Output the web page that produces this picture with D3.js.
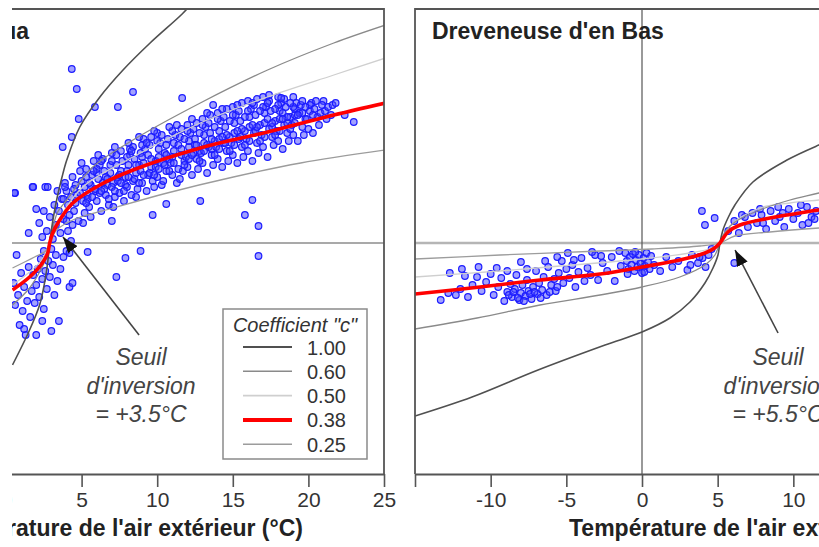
<!DOCTYPE html>
<html><head><meta charset="utf-8">
<script src="https://cdn.jsdelivr.net/npm/d3@7"></script>
<style>body{margin:0;background:#fff}svg{display:block}text{font-family:"Liberation Sans",Arial,sans-serif}</style>
</head><body><svg id="c" width="819" height="547"></svg>
<script>
// ---------- data ----------
const coefficients = ["1.00","0.60","0.50","0.38","0.25"];
const leftTitle = "ua";
const rightTitle = "Dreveneuse d'en Bas";
const axisTitle = "Température de l'air extérieur (°C)";
const xTicksLeft = [0,5,10,15,20,25];
const xTicksRight = [-15,-10,-5,0,5,10,15];
const thresholdLeft = "= +3.5°C";
const thresholdRight = "= +5.5°C";

// model curves, left panel (°C, relative y units), order = coefficients
const leftCurve100 = [[0.43,-6.1],[1.56,-4.35],[2.22,-3.1],[2.56,-1.95],[2.76,-0.95],[2.89,0],[3.02,0.75],[3.22,1.65],[3.42,2.4],[3.69,3.25],[4.02,4.15],[4.88,5.8],[6.21,7.3],[7.74,8.65],[9.53,10.0],[11.65,11.45],[12.2,11.9]];
const leftCurve060 = [[0.43,-3.1],[1.56,-2.25],[2.36,-1.25],[2.76,-0.55],[2.89,0],[3.09,0.75],[3.42,1.55],[4.02,2.15],[5.74,3.8],[8.4,5.15],[12.85,7.0],[17.3,8.65],[21.68,10.0],[25.1,10.9]];
const leftCurve050 = [[0.43,-2.1],[1.56,-1.45],[2.36,-0.85],[2.89,0],[3.09,0.55],[3.55,1.25],[5.08,2.8],[8.4,4.3],[12.85,6.0],[17.3,7.3],[21.68,8.4],[25.1,9.25]];
const leftCurve038 = [[0.43,-2.35],[1.56,-1.7],[2.36,-1.05],[2.76,-0.5],[2.89,0],[3.09,0.5],[3.55,1.15],[4.42,2.0],[6.21,2.9],[8.4,3.65],[12.85,4.75],[17.3,5.55],[21.68,6.4],[25.1,7.0]];
const leftCurve025 = [[0.43,-1.25],[1.89,-0.7],[2.62,-0.4],[2.89,0],[3.09,0.35],[3.35,0.65],[4.42,1.15],[7.34,1.8],[10.66,2.5],[15.04,3.3],[19.49,4.0],[25.1,4.65]];

// model curves, right panel
const rightCurve100 = [[-15,-8.65],[-11.23,-7.7],[-6.87,-6.35],[-2.44,-5.1],[0,-4.45],[1.85,-3.75],[3.17,-2.95],[4.16,-2.0],[4.69,-1.25],[5.02,-0.6],[5.15,0],[5.35,0.65],[5.68,1.25],[6.14,1.9],[7.33,3.05],[9.58,4.15],[11.69,4.9],[15,5.9]];
const rightCurve060 = [[-15,-4.3],[-10.9,-3.75],[-6.74,-3.1],[-2.77,-2.6],[0,-2.2],[2.5,-1.7],[4.16,-1.1],[4.82,-0.6],[5.15,0],[5.48,0.55],[6.14,1.05],[7.79,1.65],[9.78,2.15],[11.69,2.5],[15,3.15]];
const rightCurve050 = [[-15,-1.7],[-9.38,-1.4],[-5.42,-1.15],[0,-0.8],[3.17,-0.5],[4.62,-0.25],[5.15,0],[5.81,0.85],[7.79,1.75],[9.78,2.0],[11.69,2.15],[15,2.4]];
const rightCurve038 = [[-15,-2.55],[-10.7,-2.2],[-6.74,-1.85],[-2.77,-1.55],[0,-1.2],[2.5,-0.85],[4.16,-0.5],[4.8,-0.25],[5.15,0],[5.68,0.55],[6.47,0.9],[8.45,1.25],[10.44,1.5],[11.7,1.65],[15,1.9]];
const rightCurve025 = [[-15,-0.8],[-9.38,-0.6],[-2.77,-0.4],[0.66,-0.3],[3.83,-0.15],[5.15,0],[6.14,0.35],[8.45,0.55],[11.69,0.75],[15,0.9]];

// observations, left panel
const leftPoints = [
[3.8,1.2],[4.0,2.6],[4.1,1.9],[3.9,3.0],[4.2,1.4],[4.3,2.3],[3.7,2.2],[4.4,0.9],
[4.6,2.9],[4.5,1.6],[4.7,2.4],[4.4,3.3],[4.8,1.1],[4.6,2.0],[4.9,3.6],[4.5,2.7],
[5.1,2.1],[5.0,3.1],[5.2,1.5],[4.9,2.5],[5.3,3.7],[5.1,1.0],[5.2,2.8],[5.0,4.0],[5.4,2.4],
[5.6,2.9],[5.5,1.8],[5.7,3.4],[5.4,2.2],[5.8,4.1],[5.6,1.3],[5.5,3.0],[5.9,2.6],
[6.1,3.2],[6.0,2.1],[6.2,3.9],[5.9,2.7],[6.3,1.6],[6.1,4.4],[6.2,2.5],[6.0,3.5],[6.4,3.0],
[6.6,2.4],[6.5,3.6],[6.7,2.9],[6.4,4.2],[6.8,1.9],[6.6,3.3],[6.5,2.7],[6.9,3.9],
[7.1,3.0],[7.0,4.5],[7.2,2.3],[6.9,3.5],[7.3,3.9],[7.1,1.8],[7.0,2.8],[7.4,3.3],[7.2,4.8],
[7.6,3.6],[7.5,2.5],[7.7,4.1],[7.4,3.1],[7.8,2.1],[7.6,4.6],[7.5,3.4],[7.9,2.9],
[8.1,3.9],[8.0,2.8],[8.2,4.4],[7.9,3.3],[8.3,2.4],[8.1,5.0],[8.0,3.6],[8.4,3.1],[8.2,4.7],
[8.6,3.5],[8.5,4.2],[8.7,2.7],[8.4,4.8],[8.8,3.9],[8.6,2.3],[8.5,3.2],[8.9,4.5],
[9.1,4.0],[9.0,3.0],[9.2,4.7],[8.9,3.6],[9.3,2.6],[9.1,5.2],[9.0,4.3],[9.4,3.4],
[9.6,3.8],[9.5,4.9],[9.7,3.1],[9.4,4.4],[9.8,2.8],[9.6,5.3],[9.5,3.5],[9.9,4.1],
[10.1,4.3],[10.0,3.3],[10.2,5.0],[9.9,3.8],[10.3,2.9],[10.1,4.7],[10.0,5.5],[10.4,4.0],
[10.6,3.6],[10.5,4.5],[10.7,5.2],[10.4,3.1],[10.8,4.2],[10.6,4.9],[10.5,3.9],
[11.1,4.6],[11.0,3.4],[11.2,5.4],[10.9,4.0],[11.3,3.0],[11.1,5.0],[11.0,4.3],[11.4,3.7],
[11.6,4.4],[11.5,5.3],[11.7,3.6],[11.4,4.9],[11.8,4.1],[11.6,5.7],[11.5,3.2],
[12.1,4.8],[12.0,3.8],[12.2,5.5],[11.9,4.3],[12.3,3.4],[12.1,5.1],[12.0,5.9],[12.4,4.5],
[12.6,4.2],[12.5,5.2],[12.7,3.7],[12.4,5.7],[12.8,4.6],[12.6,6.0],[12.5,4.9],
[13.1,5.0],[13.0,4.0],[13.2,5.8],[12.9,4.5],[13.3,3.5],[13.1,5.4],[13.0,6.2],[13.4,4.8],
[13.6,4.4],[13.5,5.5],[13.7,3.9],[13.4,6.0],[13.8,5.1],[13.6,4.7],[13.5,6.4],
[14.1,5.2],[14.0,4.2],[14.2,6.1],[13.9,4.8],[14.3,3.8],[14.1,5.6],[14.0,6.5],[14.4,5.0],
[14.6,4.6],[14.5,5.8],[14.7,4.1],[14.4,6.3],[14.8,5.3],[14.6,6.7],[14.5,5.0],
[15.1,5.5],[15.0,4.4],[15.2,6.4],[14.9,5.0],[15.3,4.0],[15.1,6.0],[15.0,6.8],[15.4,5.2],
[15.6,4.8],[15.5,6.1],[15.7,4.3],[15.4,6.6],[15.8,5.6],[15.6,7.0],[15.5,5.3],
[16.1,5.8],[16.0,4.6],[16.2,6.7],[15.9,5.2],[16.3,4.1],[16.1,6.3],[16.0,7.1],[16.4,5.5],
[16.6,5.0],[16.5,6.4],[16.7,4.5],[16.4,6.9],[16.8,5.9],[16.6,7.2],[16.5,5.6],
[17.1,6.0],[17.0,4.8],[17.2,6.8],[16.9,5.4],[17.3,4.3],[17.1,6.5],[17.0,7.3],[17.4,5.7],
[17.6,5.3],[17.5,6.6],[17.7,4.9],[17.4,7.1],[17.8,6.1],[17.6,5.8],
[18.1,6.2],[18.0,5.1],[18.2,7.0],[17.9,5.6],[18.3,4.7],[18.1,6.6],[18.0,7.3],[18.4,5.9],
[18.6,5.5],[18.5,6.8],[18.7,5.1],[18.4,7.2],[18.8,6.3],[18.6,6.0],
[19.1,6.4],[19.0,5.4],[19.2,7.0],[18.9,5.9],[19.3,5.1],[19.1,6.7],[19.0,7.3],
[19.6,5.8],[19.5,6.9],[19.7,5.4],[19.4,6.5],[19.8,6.2],[19.6,7.1],
[20.1,6.6],[20.0,5.7],[20.2,7.0],[19.9,6.2],[20.3,5.5],[20.1,6.9],
[20.6,6.3],[20.5,7.1],[20.7,5.9],[20.4,6.7],[20.8,6.5],
[21.1,6.6],[21.0,7.1],[21.2,6.2],[20.9,6.9],[21.3,6.8],
[21.6,6.9],[21.5,6.4],[21.8,7.0],[22.4,6.4],
[5.3,2.0],[5.7,2.3],[6.3,2.6],[6.7,3.2],[7.2,2.6],[7.6,3.0],[8.1,3.3],[8.6,3.9],[9.1,3.4],[9.6,4.2],[10.1,3.7],[10.6,4.4],[11.1,4.0],[11.6,4.7],[12.1,4.2],[12.6,4.9],[13.1,4.6],[13.6,5.2],[14.1,4.7],[14.6,5.4],[15.1,4.9],[15.6,5.7],[16.1,5.1],[16.6,5.8],[17.1,5.3],[17.6,6.0],[18.1,5.6],[18.6,6.3],[19.1,6.0],[19.6,6.5],
[6.0,3.7],[7.0,4.1],[8.0,4.3],[9.0,4.9],[10.0,5.1],[11.0,5.6],[12.0,5.6],[13.0,5.9],[14.0,6.2],[15.0,6.4],[16.0,6.6],[17.0,6.8],[18.0,6.9],[19.0,6.8],
[6.8,2.2],[7.8,2.6],[8.8,3.0],[9.8,3.4],[10.8,3.6],[11.8,3.9],[12.8,4.1],[13.8,4.4],[14.8,4.6],[15.8,4.9],[16.8,5.1],[17.8,5.4],[18.8,5.7],
[11.3,5.9],[11.8,5.2],[12.3,6.2],[12.8,5.5],[13.3,6.5],[13.8,5.8],[14.3,6.7],[14.8,6.1],[15.3,6.9],[15.8,6.3],[16.3,7.0],[16.8,6.6],[17.3,7.0],[17.8,6.7],[18.3,6.5],[18.8,7.0],[19.3,6.4],[19.8,6.8],[20.3,6.4],[12.3,4.4],[13.3,4.9],[14.3,5.3],[15.3,5.6],[16.3,5.9],[17.3,6.2],[18.3,6.2],[8.3,4.6],[8.8,5.3],[9.3,5.0],[9.8,5.6],[10.3,5.4],[10.8,5.8],[7.3,4.4],[6.3,4.1],[5.3,3.3],[5.8,3.6],
[0.5,-2.0],[0.6,-3.1],[0.8,-2.6],[0.9,-4.1],[1.0,-1.5],[1.1,-3.4],[1.2,-2.2],[1.3,-4.6],[1.4,-2.9],[1.5,-1.2],[1.6,-3.7],[1.7,-2.4],[1.8,-1.6],[1.9,-3.0],[2.0,-2.1],[2.1,-1.3],[2.2,-2.7],[2.3,-0.8],[2.4,-1.8],[2.5,-3.3],[2.5,-0.4],[2.6,-1.4],[2.7,-2.3],[2.8,-0.9],[2.9,-1.7],[3.0,-0.3],[3.1,-1.1],[3.2,-2.6],[3.3,-0.6],[3.4,-1.9],[3.5,-3.9],[3.6,-1.3],[3.8,-0.7],[4.0,-0.4],[4.2,-2.2],[4.4,-2.0],[0.7,-0.6],[1.2,-4.3],[2.0,-4.6],[2.4,-3.9],[3.0,-4.4],
[0.6,2.5],[1.8,2.8],[2.6,2.8],[2.2,1.0],[2.5,1.6],[2.7,0.6],[2.9,1.3],[3.1,0.2],[3.2,1.9],[3.3,0.9],[3.5,1.6],[3.6,0.5],[3.8,2.2],[4.0,1.1],[4.1,0.6],[4.3,0.1],[2.4,0.3],[2.0,1.7],[1.5,0.5],[3.4,2.6],[3.9,2.8],
[4.35,8.7],[4.68,7.7],[4.81,6.2],[4.35,5.3],[3.75,4.8],[5.88,6.8],[7.4,6.8],[8.4,7.55],[11.65,7.25],[13.7,6.9],[17.4,7.4],[18.2,7.25],[23.0,6.05],[16.3,2.15],[15.8,1.4],[16.7,0.85],[16.7,-0.65],[12.85,2.1],[9.7,1.4],[10.6,1.95],[7.0,1.1],[8.9,-0.4],[7.9,-0.75],[7.3,-1.7],[5.4,-0.45],[4.2,-0.5],[0.56,2.5],[1.76,2.8],[2.76,2.8]
];

// observations, right panel
const rightPoints = [
[-13.3,-2.85],[-12.8,-2.5],[-12.3,-2.6],[-12.0,-2.3],[-11.7,-1.65],[-11.5,-2.7],[-11.2,-2.1],[-10.9,-1.7],[-10.6,-2.4],[-10.3,-1.95],[-10.0,-1.55],[-9.8,-2.6],[-9.5,-2.2],[-9.3,-1.75],[-9.1,-2.9],[-8.9,-2.45],[-8.7,-2.05],[-8.6,-2.7],[-8.4,-2.3],[-8.3,-1.6],[-8.1,-2.85],[-8.0,-2.5],[-7.9,-2.1],[-7.7,-2.65],[-7.6,-1.85],[-7.5,-2.4],[-7.3,-2.8],[-7.2,-2.2],[-7.0,-1.4],[-6.9,-2.55],[-6.8,-2.0],[-6.6,-2.35],[-6.5,-1.7],[-6.3,-2.6],[-6.2,-1.2],[-6.0,-2.1],[-5.8,-1.8],[-5.7,-2.4],[-5.5,-1.5],[-5.3,-0.9],[-5.2,-2.0],[-5.0,-1.3],[-4.8,-1.75],[-4.6,-1.1],[-4.4,-2.2],[-4.2,-1.45],[-4.0,-0.75],[-3.8,-1.9],[-3.6,-1.25],[-3.4,-1.6],[-3.1,-0.6],[-2.9,-1.85],[-2.6,-1.0],[-2.3,-1.4],[-2.0,-0.7],[-1.8,-1.9],[-1.4,-1.15],
[-8.8,-2.6],[-8.2,-2.75],[-7.8,-2.9],[-7.4,-2.55],[-6.7,-2.75],[-6.1,-2.45],[-5.6,-2.2],[-8.5,-2.45],[-7.1,-2.45],
[-1.1,-0.5],[-1.0,-0.9],[-0.9,-1.3],[-0.8,-0.7],[-0.7,-1.1],[-0.6,-0.55],[-0.5,-1.4],[-0.4,-0.85],[-0.3,-1.2],[-0.2,-0.6],[-0.1,-1.0],[0.0,-1.5],[0.1,-0.75],[0.2,-1.15],[0.3,-0.5],[0.4,-0.95],[0.5,-1.3],[-0.95,-1.55],[-0.45,-0.45],[0.15,-1.45],[0.6,-0.65],[0.8,-1.1],[1.2,-1.4],[1.6,-0.7],[2.0,-1.2],[2.4,-0.9],[3.0,-1.35],[3.3,-0.6],[3.7,-1.0],[4.0,-0.75],[4.2,-1.2],[4.4,-0.6],[4.6,-0.3],
[-9.6,-1.25],[-8.9,-1.4],[-8.0,-0.95],[-7.6,-1.3],[-6.4,-0.9],[-5.6,-0.7],[-4.9,-0.5],[-4.5,-0.85],[-3.3,-0.45],[-2.7,-0.65],[-1.5,-0.4],[-11.9,-1.3],[-12.7,-1.5],[-10.8,-1.2],
[5.7,0.6],[6.1,1.1],[6.4,0.5],[6.8,1.3],[7.0,0.8],[7.3,1.5],[7.6,1.0],[7.9,1.4],[8.2,0.7],[8.5,1.6],[8.8,1.1],[9.1,1.3],[9.4,0.8],[9.7,1.7],[10.0,1.2],[10.3,1.5],[10.6,0.9],[10.9,1.8],[11.2,1.3],[11.5,1.6],[6.6,1.4],[7.8,1.7],[9.0,1.8],[10.5,1.9],[11.0,1.0],[8.0,1.0],[9.3,1.5],[11.4,1.2],
[3.96,1.6],[4.16,0.9],[4.8,1.25],[6.1,-1.0],[3.8,-0.7],[3.2,-1.1]
];

// ---------- drawing ----------
const styles = [
  {color:"#505050", width:1.6},
  {color:"#8a8a8a", width:1.3},
  {color:"#cfcfcf", width:1.3},
  {color:"#ff0000", width:3.6},
  {color:"#9c9c9c", width:1.3}
];
const svg = d3.select("#c");
const yS = d3.scaleLinear().domain([-11.55, 11.7]).range([474, 9]);
const xL = d3.scaleLinear().domain([0, 25]).range([6, 384]);
const xR = d3.scaleLinear().domain([-15, 15]).range([415, 869]);
const frameColor = "#555";

const defs = svg.append("defs");
defs.append("clipPath").attr("id","clipL").append("rect").attr("x",12).attr("y",yS(11.7)).attr("width",xL(25)-12).attr("height",yS(-11.55)-yS(11.7));
defs.append("clipPath").attr("id","clipLall").append("rect").attr("x",12).attr("y",0).attr("width",420).attr("height",547);
defs.append("clipPath").attr("id","clipR").append("rect").attr("x",xR(-15)).attr("y",yS(11.7)).attr("width",xR(15)-xR(-15)).attr("height",yS(-11.55)-yS(11.7));
defs.append("marker").attr("id","arrow").attr("viewBox","0 0 15 11").attr("refX",15).attr("refY",5.5)
  .attr("markerWidth",16).attr("markerHeight",12).attr("markerUnits","userSpaceOnUse").attr("orient","auto")
  .append("path").attr("d","M0,0L15,5.5L0,11Z").attr("fill","#111");

function panel(g, x, curves, points, xTicks, tickLabelFilter, hColor, hWidth) {
  const plot = g.append("g");
  plot.append("line").attr("x1",x.range()[0]).attr("x2",x.range()[1]).attr("y1",yS(0)).attr("y2",yS(0))
    .attr("stroke", hColor).attr("stroke-width", hWidth);
  plot.append("line").attr("x1",x(0)).attr("x2",x(0)).attr("y1",yS(11.7)).attr("y2",yS(-11.55))
    .attr("stroke","#555").attr("stroke-width",1.2);
  plot.append("g").selectAll("circle").data(points).join("circle")
    .attr("cx",d=>x(d[0])).attr("cy",d=>yS(d[1])).attr("r",3.3)
    .attr("fill","rgba(70,70,255,0.5)").attr("stroke","#1c1cff").attr("stroke-width",1.2);
  const line = d3.line().x(d=>x(d[0])).y(d=>yS(d[1])).curve(d3.curveCatmullRom.alpha(0.5));
  [2,4,1,0,3].forEach(i=>{
    plot.append("path").attr("d", line(curves[i])).attr("fill","none")
      .attr("stroke", styles[i].color).attr("stroke-width", styles[i].width).attr("stroke-linejoin","round");
  });
  const ax = d3.axisBottom(x).tickValues(xTicks).tickSize(13).tickSizeOuter(0).tickPadding(5)
    .tickFormat(d => tickLabelFilter(d) ? d3.format("d")(d).replace("−","-") : "");
  const axg = g.append("g").attr("transform",`translate(0,${yS(-11.55)})`).call(ax);
  axg.select(".domain").attr("stroke",frameColor).attr("stroke-width",2);
  axg.selectAll(".tick line").attr("stroke",frameColor).attr("stroke-width",1.6);
  axg.selectAll(".tick text").attr("fill","#333").attr("font-size",21).attr("font-family",'"Liberation Sans",Arial,sans-serif');
  g.append("path").attr("d",`M${x.range()[0]},${yS(-11.55)}V${yS(11.7)}H${x.range()[1]}V${yS(-11.55)}`)
    .attr("fill","none").attr("stroke",frameColor).attr("stroke-width",1.8);
  return plot;
}

// left panel
const gL = svg.append("g").attr("clip-path","url(#clipLall)");
const plotL = panel(gL, xL, [leftCurve100,leftCurve060,leftCurve050,leftCurve038,leftCurve025], leftPoints, xTicksLeft, d=>true, "#555", 1.2);
plotL.attr("clip-path","url(#clipL)");
gL.append("text").attr("x",29).attr("y",39).attr("text-anchor","end").attr("font-weight","bold").attr("font-size",23).attr("fill","#222").text(leftTitle);
gL.append("text").attr("x",303).attr("y",536).attr("text-anchor","end").attr("font-weight","bold").attr("font-size",23).attr("fill","#222").text(axisTitle);

// right panel
const gR = svg.append("g");
const plotR = panel(gR, xR, [rightCurve100,rightCurve060,rightCurve050,rightCurve038,rightCurve025], rightPoints, xTicksRight, d=>d!==-15, "#b5b5b5", 2.6);
plotR.attr("clip-path","url(#clipR)");
gR.append("text").attr("x",432).attr("y",39).attr("font-weight","bold").attr("font-size",23).attr("fill","#222").text(rightTitle);
gR.append("text").attr("x",569).attr("y",536).attr("font-weight","bold").attr("font-size",23).attr("fill","#222").text(axisTitle);

// annotations
function annotate(g, x, from, to, cx, label) {
  g.append("line").attr("x1",x(from[0])).attr("y1",yS(from[1])).attr("x2",x(to[0])).attr("y2",yS(to[1]))
    .attr("stroke","#444").attr("stroke-width",1.6).attr("marker-end","url(#arrow)");
  const t = g.append("text").attr("text-anchor","middle").attr("font-style","italic").attr("font-size",23).attr("fill","#444");
  ["Seuil","d'inversion",label].forEach((s,i)=>{
    t.append("tspan").attr("x",x(cx)).attr("y",yS(-6.1)+i*28.5).text(s);
  });
}
annotate(gL, xL, [8.8,-4.6], [3.77,0.3], 8.93, thresholdLeft);
annotate(gR, xR, [8.99,-4.5], [6.15,-0.35], 8.99, thresholdRight);

// legend
const lg = svg.append("g").attr("transform","translate(223,309)");
lg.append("rect").attr("width",144).attr("height",150).attr("fill","#fff").attr("stroke","#8a8a8a").attr("stroke-width",1.5);
lg.append("text").attr("x",72).attr("y",23).attr("text-anchor","middle").attr("font-style","italic").attr("font-size",20).attr("fill","#333").text('Coefficient "c"');
coefficients.forEach((c,i)=>{
  const yy = 38 + i*24.3;
  lg.append("line").attr("x1",20).attr("x2",69).attr("y1",yy).attr("y2",yy)
    .attr("stroke",styles[i].color).attr("stroke-width", i===3?4:styles[i].width+0.3);
  lg.append("text").attr("x",84).attr("y",yy+7.5).attr("font-size",20).attr("fill","#333").text(c);
});
</script></body></html>
